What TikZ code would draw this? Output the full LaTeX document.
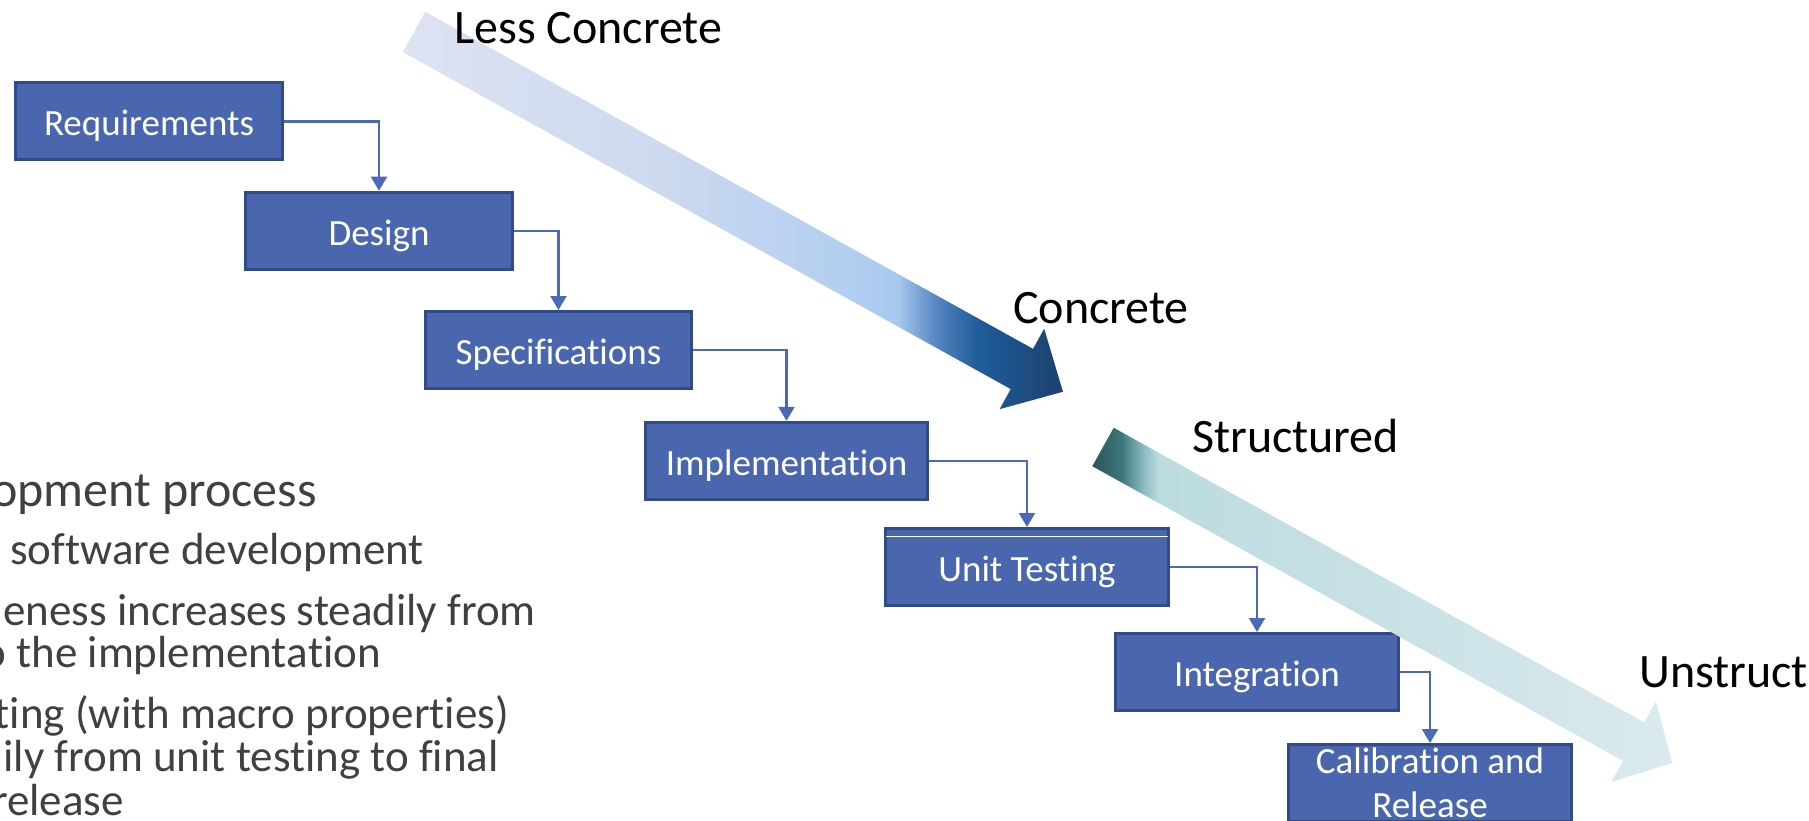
\documentclass[tikz,border=0pt]{standalone}
\usepackage{fontspec}
\setmainfont{Carlito}[Ligatures={NoCommon,NoRequired,NoContextual}]
\usetikzlibrary{arrows.meta}
\newcommand{\nolg}{\kern0pt}
\definecolor{boxfill}{HTML}{4A66AE}
\definecolor{boxline}{HTML}{2F4B89}
\definecolor{connc}{HTML}{4A69B6}
\definecolor{bodytext}{HTML}{404040}
\definecolor{aA0}{HTML}{DDE3F1}
\definecolor{aA1}{HTML}{CCD9EF}
\definecolor{aA2}{HTML}{B0CDF0}
\definecolor{aA3}{HTML}{A7C8EE}
\definecolor{aA4}{HTML}{5284C0}
\definecolor{aA5}{HTML}{1F5C9C}
\definecolor{aA6}{HTML}{1B416F}
\definecolor{aB0}{HTML}{2C5558}
\definecolor{aB1}{HTML}{3B767B}
\definecolor{aB2}{HTML}{8FBFC4}
\definecolor{aB3}{HTML}{BCDCE0}
\definecolor{aB4}{HTML}{C8E1E5}
\definecolor{aB5}{HTML}{DAEAEE}
\pgfdeclarehorizontalshading{arrowshA}{100bp}{color(0bp)=(aA0); color(25bp)=(aA0); color(45bp)=(aA1); color(60bp)=(aA2); color(62.5bp)=(aA3); color(65.5bp)=(aA4); color(68.5bp)=(aA5); color(75bp)=(aA6); color(100bp)=(aA6)}
\pgfdeclarehorizontalshading{arrowshB}{100bp}{color(0bp)=(aB0); color(25bp)=(aB0); color(27.5bp)=(aB1); color(29.5bp)=(aB2); color(30.75bp)=(aB3); color(50bp)=(aB4); color(75bp)=(aB5); color(100bp)=(aB5)}
\tikzset{
  stage/.style={draw=boxline, line width=3pt, fill=boxfill, text=white,
    font=\fontsize{37}{44}\selectfont, inner sep=0pt, minimum height=77pt,
    text height=29pt, text depth=0pt, align=center},
  stagetext/.style={text=white, font=\fontsize{37}{44}\selectfont, inner sep=0pt},
  flow/.style={draw=connc, line width=2.2pt, -{Triangle[width=16pt,length=14pt]}},
  label/.style={text=black, font=\fontsize{48}{56}\selectfont, inner sep=0pt},
  bodyA/.style={text=bodytext, font=\fontsize{50}{60}\selectfont, inner sep=0pt},
  bodyB/.style={text=bodytext, font=\fontsize{45}{54}\selectfont, inner sep=0pt}
}
\begin{document}
\begin{tikzpicture}[x=1pt,y=-1pt]
\useasboundingbox (0,0) rectangle (1809,821);
\clip (0,0) rectangle (1809,821);
\fill[white] (0,0) rectangle (1809,821);

% body text (clipped at left)
\node[bodyA, anchor=base east] (t1) at (317,506) {opment process};
\node[bodyB, anchor=base east] (t2) at (424,564) {software development};
\node[bodyB, anchor=base east] (t3) at (536,625) {eness increases steadily from};
\node[bodyB, anchor=base east] (t4) at (381,667) {o the implementa\nolg tion};
\node[bodyB, anchor=base east] (t5) at (509,728) {t\nolg ing (with macro proper\nolg ties)};
\node[bodyB, anchor=base east] (t6) at (499,771) {ily from unit test\nolg ing to f\nolg inal};
\node[bodyB, anchor=base east] (t7) at (124,815) {release};

% stages
\node[stage, minimum width=267pt] (req) at (149,121.5) {Requirements};
\node[stage, minimum width=267pt] (des) at (379,230.7) {Design};
\node[stage, minimum width=266pt] (spe) at (558.5,350) {Specif\nolg icat\nolg ions};
\node[stage, minimum width=282pt] (imp) at (786.5,460.8) {Implementat\nolg ion};
\node[stage, minimum width=283pt] (uni) at (1027,567) {Unit Test\nolg ing};
\draw[white, line width=1.2pt] (886,536.5) -- (1168,536.5);
\node[stage, minimum width=283pt] (int) at (1257,672) {Integrat\nolg ion};
\node[stage, minimum width=283pt] (cal) at (1430,783) {};
\node[stagetext, anchor=base] (calA) at (1430,773) {Calibrat\nolg ion and};
\node[stagetext, anchor=base] (calB) at (1430,817) {Release};

% connectors
\draw[flow] (req.east) -| (des.north);
\draw[flow] (des.east) -| (spe.north);
\draw[flow] (spe.east) -| (imp.north);
\draw[flow] (imp.east) -| (uni.north);
\draw[flow] (uni.east) -| (int.north);
\draw[flow] (int.east) -| (cal.north);

% big arrows
\begin{scope}[shift={(414,32)}, rotate=-29.0]
\shade[shading=arrowshA] (0,-23) -- (695,-23) -- (695,-46) -- (742,0) -- (695,46) -- (695,23) -- (0,23) -- cycle;
\end{scope}
\begin{scope}[shift={(1103,447)}, rotate=-29.04]
\shade[shading=arrowshB] (0,-22) -- (607,-22) -- (607,-46) -- (651,0) -- (607,46) -- (607,22) -- (0,22) -- cycle;
\end{scope}

% labels
\node[label, anchor=base west] (lc) at (454,44) {Less Concrete};
\node[label, anchor=base west] (co) at (1013,323) {Concrete};
\node[label, anchor=base west] (st) at (1192,452) {Structured};
\node[label, anchor=base west] (un) at (1639,687) {Unstruct};
\end{tikzpicture}
\end{document}
